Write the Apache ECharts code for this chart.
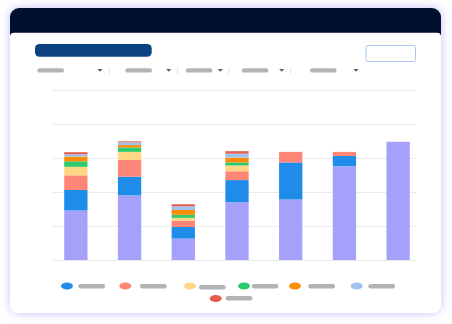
<!DOCTYPE html>
<html>
<head>
<meta charset="utf-8">
<script src="https://cdn.jsdelivr.net/npm/echarts@6/dist/echarts.min.js"></script>
<style>
html,body{margin:0;padding:0;background:#fff;}
#c{width:452px;height:324px;}
</style>
</head>
<body>
<div id="c"></div>
<script>
// ---- data ----
var categories = ['A', 'B', 'C', 'D', 'E', 'F', 'G'];
var seriesNames = ['Purple', 'Blue', 'Salmon', 'Yellow', 'Green', 'Orange', 'Light blue', 'Red'];
var purpleValues    = [14.6, 19.0, 6.3, 17.0, 17.8, 27.6, 34.8];
var blueValues      = [6.0, 5.5, 3.4, 6.5, 10.9, 3.0, 0];
var salmonValues    = [4.3, 4.9, 1.9, 2.6, 3.1, 1.2, 0];
var yellowValues    = [2.5, 2.4, 0.8, 1.7, 0, 0, 0];
var greenValues     = [1.6, 1.3, 0.9, 0.9, 0, 0, 0];
var orangeValues    = [1.4, 0.7, 1.4, 1.4, 0, 0, 0];
var lightBlueValues = [0.7, 0.8, 1.1, 1.2, 0, 0, 0];
var redValues       = [0.6, 0.3, 0.6, 0.7, 0, 0, 0];
var yTicks = [0, 10, 20, 30, 40, 50];

var allValues = [purpleValues, blueValues, salmonValues, yellowValues, greenValues, orangeValues, lightBlueValues, redValues];
var colors = ['#a5a1fa', '#1f8cea', '#fe8677', '#ffd784', '#2ecb6e', '#fd8c05', '#9fc3ee', '#e45a4b'];

// legend placement (icons) and placeholder label pills
var legendItems = [
  {name: 'Blue', x: 61, y: 282.5, px: 78.3, py: 284},
  {name: 'Salmon', x: 119.3, y: 282.5, px: 140, py: 284},
  {name: 'Yellow', x: 184, y: 282.5, px: 199, py: 285},
  {name: 'Green', x: 238, y: 282.5, px: 251.7, py: 284},
  {name: 'Orange', x: 289, y: 282.5, px: 308.3, py: 284},
  {name: 'Light blue', x: 350.7, y: 282.5, px: 368.3, py: 284},
  {name: 'Red', x: 209.7, y: 295, px: 225.7, py: 296}
];
var filterPills = [37.3, 125.3, 185.7, 241.7, 310];
var filterCarets = [100, 168.7, 220.3, 281.7, 356];
var filterDividers = [109.3, 177.7, 229, 290.7];

var chart = echarts.init(document.getElementById('c'), null, {renderer: 'canvas'});

var graphics = [];
// card with glow
graphics.push({type: 'rect', z: -10, z2: 0, shape: {x: 10, y: 8, width: 431, height: 305, r: 9},
  style: {fill: '#ffffff', shadowBlur: 10, shadowColor: 'rgba(125,110,245,0.45)'}});
graphics.push({type: 'rect', z: -10, z2: 1, shape: {x: 10, y: 8, width: 431, height: 28, r: [9, 9, 0, 0]},
  style: {fill: '#02102f'}});
graphics.push({type: 'rect', z: -10, z2: 2, shape: {x: 10, y: 32.7, width: 431, height: 280.3, r: [4, 4, 8, 8]},
  style: {fill: '#ffffff'}});
// title pill
graphics.push({type: 'rect', z: -10, z2: 3, shape: {x: 35, y: 44, width: 116.7, height: 12.7, r: 4.5},
  style: {fill: '#0a4180'}});
// button outline
graphics.push({type: 'rect', z: -10, z2: 3, shape: {x: 366, y: 45.5, width: 49.5, height: 16, r: 2},
  style: {fill: '#ffffff', stroke: '#a8c8ef', lineWidth: 1}});
// filters
filterPills.forEach(function (x) {
  graphics.push({type: 'rect', z: -10, z2: 3, shape: {x: x, y: 68.2, width: 26.7, height: 4.4, r: 2.2},
    style: {fill: '#b4b4b4'}});
});
filterCarets.forEach(function (x) {
  graphics.push({type: 'polygon', z: -10, z2: 3, shape: {points: [[x - 2.5, 69], [x + 2.5, 69], [x, 71.8]]},
    style: {fill: '#5a5a5a'}});
});
filterDividers.forEach(function (x) {
  graphics.push({type: 'line', z: -10, z2: 3, shape: {x1: x, y1: 66.8, x2: x, y2: 74},
    style: {stroke: '#e2e2e2', lineWidth: 1}});
});
// legend label pills
legendItems.forEach(function (it) {
  graphics.push({type: 'rect', z: -10, z2: 3, shape: {x: it.px, y: it.py, width: 26.7, height: 4.5, r: 2.2},
    style: {fill: '#b3b3b6'}});
});

var ellipseIcon = 'path://M0,50A50,50,0,1,1,100,50A50,50,0,1,1,0,50Z';
var legends = legendItems.map(function (it) {
  return {
    data: [{name: it.name, icon: ellipseIcon, symbolKeepAspect: false}],
    left: it.x, top: it.y, padding: 0, itemWidth: 12, itemHeight: 7,
    icon: ellipseIcon, symbolKeepAspect: false, selectedMode: false,
    formatter: function () { return ''; },
    textStyle: {fontSize: 7, lineHeight: 7}
  };
});

var series = allValues.map(function (vals, i) {
  return {
    name: seriesNames[i], type: 'bar', stack: 'total', xAxisIndex: 0, yAxisIndex: 0,
    barWidth: 23.3, data: vals, itemStyle: {color: colors[i]}, silent: true,
    symbolKeepAspect: false
  };
});

chart.setOption({
  animation: false,
  backgroundColor: '#ffffff',
  graphic: graphics,
  legend: legends,
  grid: [
    {left: 49, right: 27, top: 90, bottom: 64},
    {left: 52, right: 36, top: 90, bottom: 64}
  ],
  xAxis: [
    {type: 'category', gridIndex: 0, data: categories, axisLine: {show: false}, axisTick: {show: false}, axisLabel: {show: false}},
    {type: 'category', gridIndex: 1, data: categories, show: false}
  ],
  yAxis: [
    {type: 'value', gridIndex: 0, min: yTicks[0], max: yTicks[yTicks.length - 1], interval: 10, show: false, splitLine: {show: false}},
    {type: 'value', gridIndex: 1, min: yTicks[0], max: yTicks[yTicks.length - 1], interval: 10,
      axisLine: {show: false}, axisTick: {show: false}, axisLabel: {show: false},
      splitLine: {show: true, lineStyle: {color: '#ebebeb', width: 1}}}
  ],
  series: series
});
</script>
</body>
</html>
